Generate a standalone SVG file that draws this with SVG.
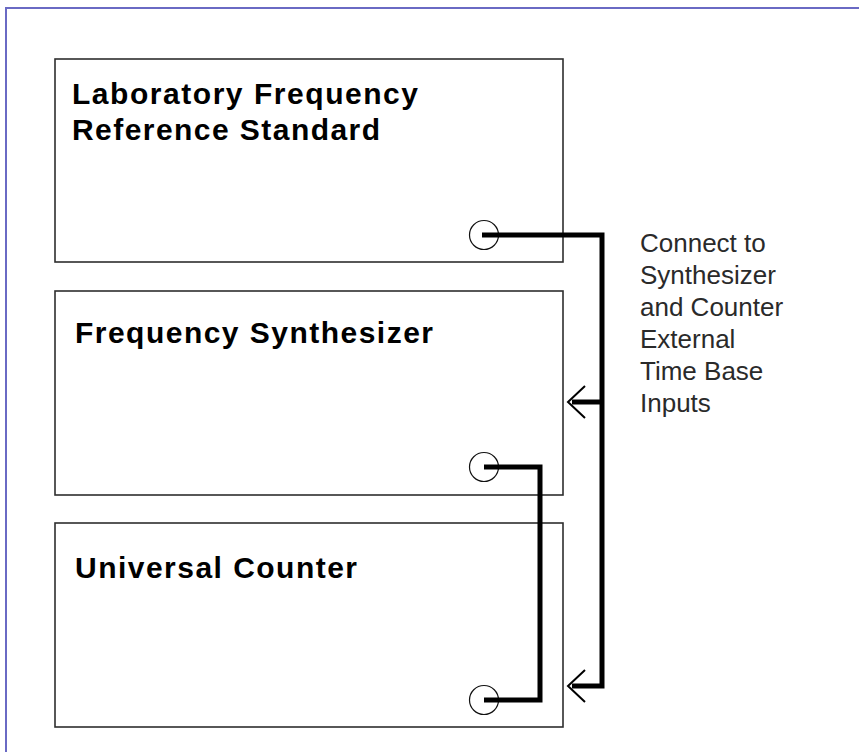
<svg xmlns="http://www.w3.org/2000/svg" width="859" height="752" viewBox="0 0 859 752">
  <style>
    .box { fill: #ffffff; stroke: #2e2e2e; stroke-width: 1.6; }
    .port { fill: none; stroke: #111111; stroke-width: 1.2; }
    .title { font-family: "Liberation Sans", Arial, sans-serif; font-weight: bold; font-size: 30px; fill: #000000; }
    .note { font-family: "Liberation Sans", Arial, sans-serif; font-size: 26px; fill: #2a2a2a; }
    .wire { fill: none; stroke: #000000; stroke-width: 5; stroke-linejoin: miter; stroke-linecap: butt; }
  </style>
  <defs>
    <marker id="openArrow" markerUnits="userSpaceOnUse" markerWidth="20" markerHeight="36" viewBox="0 0 20 36" refX="14" refY="17" orient="auto">
      <path d="M1 1 L18 17 L1 33" fill="none" stroke="#000000" stroke-width="2"/>
    </marker>
  </defs>
  <rect x="0" y="0" width="859" height="752" fill="#ffffff"/>
  <polyline points="6,752 6,8 859,8" fill="none" stroke="#6a6ac4" stroke-width="2"/>

  <g id="reference-standard">
    <rect class="box" x="55" y="59" width="508" height="203"/>
    <text class="title" x="72" y="104" textLength="346" lengthAdjust="spacing">Laboratory Frequency</text>
    <text class="title" x="72" y="140" textLength="308" lengthAdjust="spacing">Reference Standard</text>
    <circle class="port" cx="484" cy="235" r="14.5"/>
  </g>

  <g id="frequency-synthesizer">
    <rect class="box" x="55" y="291" width="508" height="204"/>
    <text class="title" x="75" y="343" textLength="358" lengthAdjust="spacing">Frequency Synthesizer</text>
    <circle class="port" cx="484" cy="467" r="14.5"/>
  </g>

  <g id="universal-counter">
    <rect class="box" x="55" y="523" width="508" height="204"/>
    <text class="title" x="75" y="578" textLength="282" lengthAdjust="spacing">Universal Counter</text>
    <circle class="port" cx="484" cy="700" r="14.5"/>
  </g>

  <g id="connectors">
    <path class="wire" d="M482 235 H602 V686 H572" marker-end="url(#openArrow)"/>
    <path class="wire" d="M602 402 H572" marker-end="url(#openArrow)"/>
    <path class="wire" d="M484 467 H540 V700 H484"/>
  </g>

  <g id="note">
    <text class="note" x="640" y="252">Connect to</text>
    <text class="note" x="640" y="284">Synthesizer</text>
    <text class="note" x="640" y="316">and Counter</text>
    <text class="note" x="640" y="348">External</text>
    <text class="note" x="640" y="380">Time Base</text>
    <text class="note" x="640" y="412">Inputs</text>
  </g>
</svg>
